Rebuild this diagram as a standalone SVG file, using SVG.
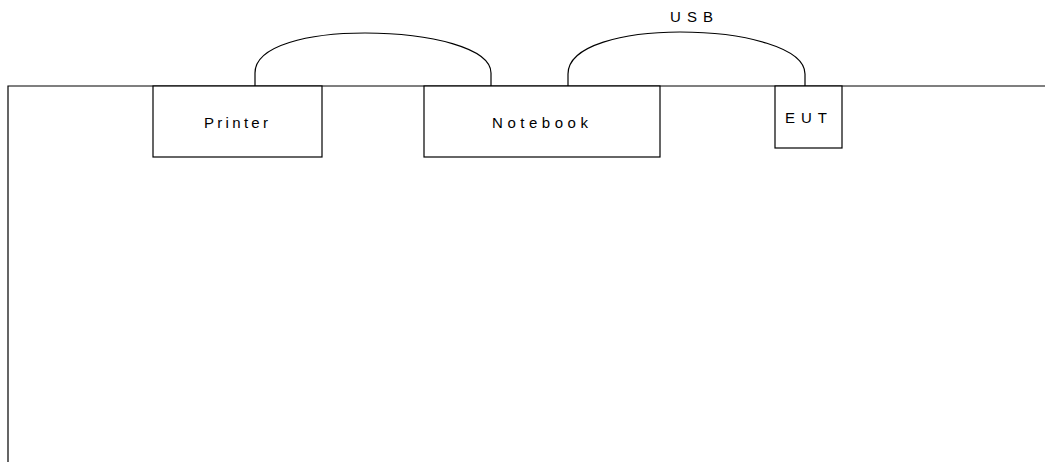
<svg xmlns="http://www.w3.org/2000/svg" width="1045" height="462" viewBox="0 0 1045 462">
<style>
.box{fill:#fff;stroke:#000;stroke-width:1.2}
.ln{fill:none;stroke:#000;stroke-width:1.2}
.t{font-family:"Liberation Sans",Arial,sans-serif;font-size:15px;fill:#000}
</style>
<rect width="1045" height="462" fill="#fff"/>
<g id="table">
<path class="ln" d="M8,462 L8,86 L1045,86"/>
</g>
<g id="connectors">
<path class="ln" d="M255,86 L255,73 C255,45 310,33 365,33 C430,33 491,48 491,73 L491,86"/>
<path class="ln" d="M568,86 L568,74 C568,45 625,32 680,32 C745,32 805,48 805,74 L805,86"/>
<text class="t" x="670" y="21.5" textLength="43" lengthAdjust="spacing">USB</text>
</g>
<g id="printer">
<rect class="box" x="153" y="86" width="169" height="71"/>
<text class="t" x="204" y="127.5" textLength="64" lengthAdjust="spacing">Printer</text>
</g>
<g id="notebook">
<rect class="box" x="424" y="86" width="236" height="71"/>
<text class="t" x="492" y="127.5" textLength="96" lengthAdjust="spacing">Notebook</text>
</g>
<g id="eut">
<rect class="box" x="775" y="86" width="67" height="62"/>
<text class="t" x="785" y="123" textLength="42" lengthAdjust="spacing">EUT</text>
</g>
</svg>
